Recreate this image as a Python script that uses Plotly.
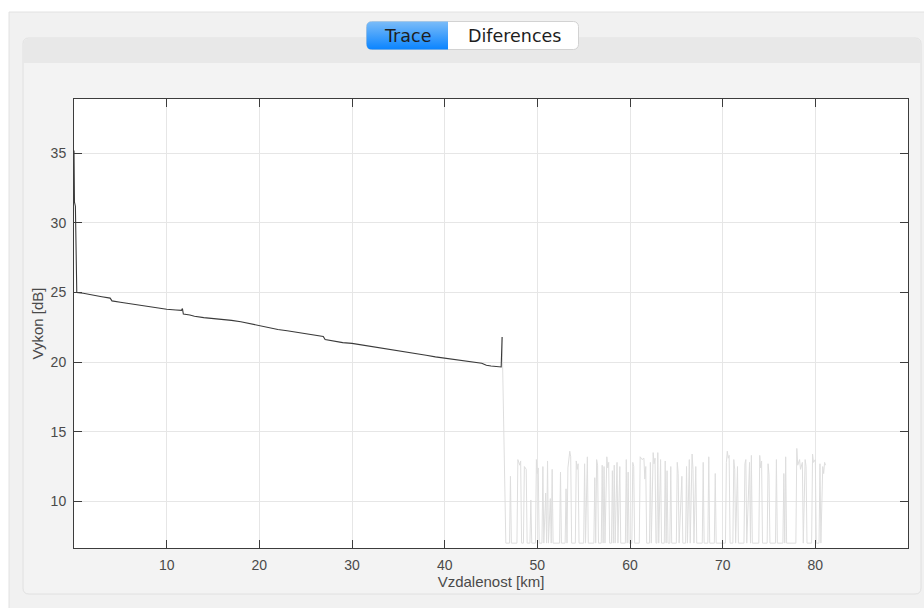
import base64
import plotly.graph_objects as go

# OTDR trace: fibre section up to the end-of-fibre reflection
trace_km = [0.0, 0.05, 0.15, 0.3, 1.0, 2.0, 3.0, 3.9, 4.1, 5.0, 6.0, 7.0, 8.0, 9.0,
            10.0, 11.0, 11.6, 11.7, 11.8, 12.5, 13.0, 14.0, 15.0, 16.0, 17.0, 18.0,
            19.0, 20.0, 21.0, 22.0, 23.0, 24.0, 25.0, 26.0, 26.9, 27.1, 28.0, 29.0,
            30.0, 31.0, 32.0, 33.0, 34.0, 35.0, 36.0, 37.0, 38.0, 39.0, 40.0, 41.0,
            42.0, 43.0, 44.0, 44.5, 45.0, 46.1, 46.2]
trace_db = [35.2, 31.5, 31.2, 25.0, 24.95, 24.85, 24.7, 24.6, 24.4, 24.3, 24.2, 24.05,
            23.95, 23.85, 23.8, 23.75, 23.72, 23.85, 23.45, 23.38, 23.3, 23.2, 23.15,
            23.1, 23.0, 22.9, 22.75, 22.6, 22.5, 22.35, 22.25, 22.15, 22.05, 21.95,
            21.85, 21.62, 21.5, 21.4, 21.35, 21.25, 21.15, 21.05, 20.95, 20.85, 20.75,
            20.62, 20.5, 20.38, 20.28, 20.2, 20.1, 20.0, 19.92, 19.78, 19.72, 19.65, 21.8]

# Noise beyond the fibre end
noise_km = [46.2, 46.6, 47.0, 47.1, 47.2, 47.8, 47.9, 48.1, 48.2, 48.3, 48.5, 48.6, 48.8,
            48.9, 49.2, 49.3, 49.4, 49.8, 49.9, 50.0, 50.1, 50.2, 50.5, 50.6, 50.7, 50.9,
            51.0, 51.1, 51.2, 51.4, 51.5, 51.6, 51.7, 52.4, 52.5, 52.6, 53.0, 53.1, 53.2,
            53.3, 53.5, 53.6, 53.7, 54.1, 54.2, 54.3, 54.4, 54.5, 55.0, 55.1, 55.2, 55.4,
            55.5, 56.1, 56.2, 56.3, 56.4, 56.5, 56.6, 56.9, 57.0, 57.1, 57.2, 57.3, 57.5,
            57.6, 57.7, 57.8, 58.0, 58.1, 58.2, 58.3, 58.4, 58.6, 58.7, 58.9, 59.0, 59.5,
            59.6, 59.7, 59.8, 59.9, 60.2, 60.3, 60.4, 60.5, 61.0, 61.1, 61.3, 61.5, 61.6,
            61.7, 61.8, 62.1, 62.2, 62.3, 62.5, 62.6, 62.7, 62.8, 62.9, 63.0, 63.1, 63.3,
            63.4, 63.7, 63.8, 63.9, 64.0, 64.1, 64.3, 64.4, 64.5, 65.0, 65.1, 65.2, 65.3,
            65.6, 65.7, 66.0, 66.1, 66.2, 66.4, 66.5, 66.7, 66.8, 66.9, 67.1, 67.2, 67.8,
            67.9, 68.0, 68.4, 68.5, 68.6, 69.1, 69.2, 69.3, 70.3, 70.4, 70.5, 70.6, 70.7,
            70.8, 71.1, 71.2, 71.3, 71.4, 71.6, 71.7, 72.3, 72.4, 72.5, 72.6, 72.9, 73.0,
            73.1, 73.2, 73.9, 74.0, 74.1, 74.2, 74.3, 74.8, 74.9, 75.0, 75.1, 75.7, 75.8,
            75.9, 76.5, 76.6, 76.7, 76.8, 76.9, 77.9, 78.0, 78.1, 78.3, 78.4, 78.6, 78.7,
            78.9, 79.0, 79.1, 79.6, 79.7, 79.8, 80.0, 80.1, 80.4, 80.5, 80.6, 80.8, 80.9,
            81.0, 81.1]
noise_db = [21.8, 7.0, 7.0, 11.8, 7.0, 7.0, 13.0, 12.6, 12.9, 7.0, 7.0, 12.5, 12.3,
            7.0, 7.0, 10.1, 7.0, 7.0, 13.0, 12.0, 12.4, 7.0, 7.0, 12.5, 7.0, 10.6,
            7.0, 12.9, 7.0, 10.2, 7.0, 12.3, 7.0, 7.0, 12.1, 7.0, 7.0, 10.9, 7.0,
            12.4, 13.6, 13.2, 7.0, 7.0, 12.9, 12.3, 12.7, 7.0, 7.0, 12.7, 7.0, 13.2,
            7.0, 7.0, 11.7, 7.0, 13.0, 12.6, 7.0, 7.0, 12.6, 7.0, 12.5, 7.0, 13.2,
            12.4, 12.8, 7.0, 7.0, 12.2, 7.0, 12.6, 7.0, 12.8, 7.0, 12.5, 7.0, 7.0,
            13.0, 7.0, 12.1, 7.0, 7.0, 12.8, 12.5, 7.0, 7.0, 13.2, 13.0, 13.1, 11.6,
            12.5, 7.0, 7.0, 12.8, 7.0, 13.5, 12.7, 13.1, 7.0, 7.0, 13.5, 7.0, 13.0,
            7.0, 7.0, 12.9, 7.0, 12.2, 7.0, 7.0, 12.5, 7.0, 7.0, 12.8, 12.0, 7.0,
            11.8, 7.0, 7.0, 12.5, 7.0, 13.0, 7.0, 13.4, 12.3, 7.0, 12.5, 7.0, 7.0,
            12.8, 7.0, 7.0, 13.2, 7.0, 7.0, 12.0, 7.0, 7.0, 12.8, 13.6, 13.1, 13.3,
            7.0, 7.0, 13.0, 12.3, 7.0, 12.5, 7.0, 7.0, 12.7, 13.0, 7.0, 12.8, 7.0,
            13.3, 7.0, 7.0, 13.3, 12.4, 12.9, 7.0, 7.0, 12.7, 11.9, 7.0, 7.0, 13.0,
            7.0, 7.0, 12.0, 7.0, 13.2, 7.0, 7.0, 13.8, 12.6, 13.0, 12.3, 12.8, 7.0,
            13.0, 12.5, 7.0, 7.0, 13.4, 12.8, 13.0, 7.0, 7.0, 12.7, 7.0, 12.5, 12.0,
            12.8, 12.6]

x_ticks = [10, 20, 30, 40, 50, 60, 70, 80]
y_ticks = [10, 15, 20, 25, 30, 35]
x_range = [0, 90]
y_range = [6.65, 38.9]

W, H = 924, 608
L, R, T, B = 74, 16, 99, 60
PW, PH = W - L - R, H - T - B


def px_x(p):
    return (p - L) / PW


def px_y(p):
    return (T + PH - p) / PH


def rounded_path(x0, y0, x1, y1, r, top=True, bottom=True):
    """Rounded rectangle in pixel coordinates, returned as a paper-space path."""
    rt = r if top else 0
    rb = r if bottom else 0

    def pt(x, y):
        return f"{px_x(x):.6f},{px_y(y):.6f}"

    d = f"M{pt(x0 + rt, y0)} L{pt(x1 - rt, y0)} "
    d += f"Q{pt(x1, y0)} {pt(x1, y0 + rt)} " if rt else ""
    d += f"L{pt(x1, y1 - rb)} "
    d += f"Q{pt(x1, y1)} {pt(x1 - rb, y1)} " if rb else ""
    d += f"L{pt(x0 + rb, y1)} "
    d += f"Q{pt(x0, y1)} {pt(x0, y1 - rb)} " if rb else ""
    d += f"L{pt(x0, y0 + rt)} "
    d += f"Q{pt(x0, y0)} {pt(x0 + rt, y0)} " if rt else ""
    return d + "Z"


fig = go.Figure()
fig.add_trace(go.Scatter(x=noise_km, y=noise_db, mode="lines",
                         line=dict(color="#dedede", width=1), hoverinfo="skip",
                         showlegend=False))
fig.add_trace(go.Scatter(x=trace_km, y=trace_db, mode="lines",
                         line=dict(color="#3a3a3a", width=1.1), showlegend=False))

shapes = [
    # window background
    dict(type="rect", xref="paper", yref="paper", layer="below",
         x0=px_x(9), x1=px_x(930), y0=px_y(12), y1=px_y(615),
         fillcolor="#f1f1f1", line=dict(color="#e2e2e2", width=1)),
    # tab panel
    dict(type="path", xref="paper", yref="paper", layer="below",
         path=rounded_path(23, 38, 921, 594, 6),
         fillcolor="#f3f3f3", line=dict(color="#e0e0e0", width=1)),
    # tab panel header band
    dict(type="path", xref="paper", yref="paper", layer="below",
         path=rounded_path(23.5, 38.5, 920.5, 63, 6, bottom=False),
         fillcolor="#e8e8e8", line=dict(width=0)),
    # axes background
    dict(type="rect", xref="paper", yref="paper", layer="below",
         x0=0, x1=1, y0=0, y1=1, fillcolor="white", line=dict(width=0)),
]

# segmented tab control background
tab_svg = (
    "<svg xmlns='http://www.w3.org/2000/svg' width='215' height='31' viewBox='0 0 215 31'>"
    "<defs><linearGradient id='g' x1='0' y1='0' x2='0' y2='1'>"
    "<stop offset='0' stop-color='#7bbcf8'/><stop offset='1' stop-color='#0a84ff'/>"
    "</linearGradient></defs>"
    "<rect x='1.5' y='1.5' width='212' height='28' rx='5' fill='#ffffff' stroke='#d2d2d2'/>"
    "<path d='M7,1.5 H83 V29.5 H7 Q1.5,29.5 1.5,24 V7 Q1.5,1.5 7,1.5 Z' fill='url(#g)'/>"
    "</svg>"
)
tab_src = "data:image/svg+xml;base64," + base64.b64encode(tab_svg.encode()).decode()

axis_font = dict(family="Liberation Sans, Arial, sans-serif", size=14, color="#4a4a4a")
tab_font = dict(family="DejaVu Sans, sans-serif", size=17.5, color="#1e1e1e")

fig.update_layout(
    width=W, height=H,
    margin=dict(l=L, r=R, t=T, b=B),
    paper_bgcolor="white",
    plot_bgcolor="rgba(0,0,0,0)",
    shapes=shapes,
    images=[dict(source=tab_src, xref="paper", yref="paper",
                 x=px_x(365), y=px_y(20), sizex=215 / PW, sizey=31 / PH,
                 xanchor="left", yanchor="top", sizing="stretch", layer="above")],
    annotations=[
        dict(text="Trace", xref="paper", yref="paper", x=px_x(407.5), y=px_y(35.5),
             showarrow=False, font=tab_font, xanchor="center", yanchor="middle"),
        dict(text="Diferences", xref="paper", yref="paper", x=px_x(514), y=px_y(35.5),
             showarrow=False, font=tab_font, xanchor="center", yanchor="middle"),
    ],
    xaxis=dict(range=x_range, tickvals=x_ticks, ticks="inside", ticklen=8,
               tickcolor="#3c3c3c", showline=True, linecolor="#3c3c3c", linewidth=1,
               mirror="ticks", showgrid=True, gridcolor="#e6e6e6", zeroline=False,
               tickfont=axis_font, ticklabelstandoff=4,
               title=dict(text="Vzdalenost [km]", font=dict(axis_font, size=15), standoff=4)),
    yaxis=dict(range=y_range, tickvals=y_ticks, ticks="inside", ticklen=8,
               tickcolor="#3c3c3c", showline=True, linecolor="#3c3c3c", linewidth=1,
               mirror="ticks", showgrid=True, gridcolor="#e6e6e6", zeroline=False,
               tickfont=axis_font, ticklabelstandoff=4,
               title=dict(text="Vykon [dB]", font=dict(axis_font, size=15), standoff=3)),
)

fig.write_html("out.html")
